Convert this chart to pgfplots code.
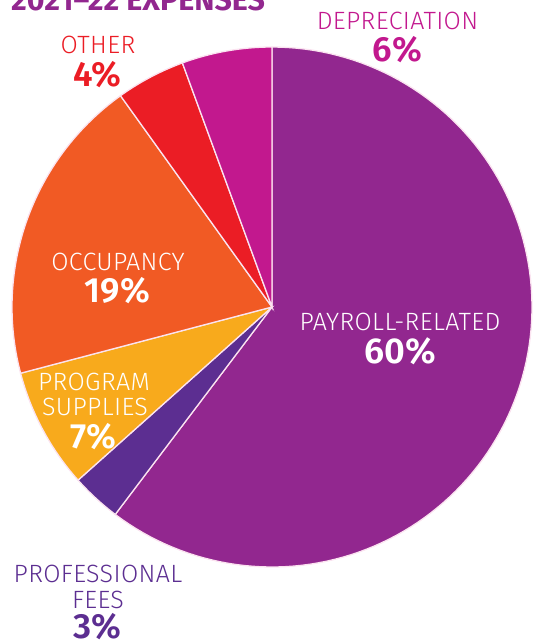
\documentclass[border=0pt]{standalone}
\usepackage{pgfplots}
\pgfplotsset{compat=1.18}
\usepackage{pgfplotstable}
\usepackage{fontspec}
\setmainfont{Fira Sans Light}
\newfontfamily\labfont{Fira Sans Light}[LetterSpace=1.5]
\newfontfamily\pctfont{Fira Sans SemiBold}
\newfontfamily\titfont{Fira Sans Bold}

\definecolor{cPay}{HTML}{92278F}
\definecolor{cFee}{HTML}{5C2E91}
\definecolor{cPrg}{HTML}{F8AA1C}
\definecolor{cOcc}{HTML}{F15A24}
\definecolor{cOth}{HTML}{EB1D25}
\definecolor{cDep}{HTML}{C2188E}
\definecolor{cSep}{HTML}{FBE3F0}

\pgfplotstableread{
name value
payroll 60.3
fees 3.1
program 7.5
occupancy 19.2
other 4.3
depreciation 5.6
}\expenses

\begin{document}
\begin{tikzpicture}
\pgfplotstablegetelem{0}{value}\of\expenses\let\vA\pgfplotsretval
\pgfplotstablegetelem{1}{value}\of\expenses\let\vB\pgfplotsretval
\pgfplotstablegetelem{2}{value}\of\expenses\let\vC\pgfplotsretval
\pgfplotstablegetelem{3}{value}\of\expenses\let\vD\pgfplotsretval
\pgfplotstablegetelem{4}{value}\of\expenses\let\vE\pgfplotsretval
\pgfplotstablegetelem{5}{value}\of\expenses\let\vF\pgfplotsretval
\pgfmathsetmacro\aA{90}
\pgfmathsetmacro\aB{\aA-3.6*\vA}
\pgfmathsetmacro\aC{\aB-3.6*\vB}
\pgfmathsetmacro\aD{\aC-3.6*\vC}
\pgfmathsetmacro\aE{\aD-3.6*\vD}
\pgfmathsetmacro\aF{\aE-3.6*\vE}
\pgfmathsetmacro\aG{\aF-3.6*\vF}
\begin{axis}[
  scale only axis, width=533pt, height=642pt,
  xmin=0, xmax=533, ymin=0, ymax=642, y dir=reverse,
  hide axis, clip=false,
]
\coordinate (tl) at (axis cs:0,0);
\coordinate (br) at (axis cs:533,642);
\addplot[draw=cSep, line width=1.3pt, fill=cPay, domain=\aB:\aA, samples=120] ({272+260*cos(x)},{307-260*sin(x)}) -- (axis cs:272,307) -- cycle;
\addplot[draw=cSep, line width=1.3pt, fill=cFee, domain=\aC:\aB, samples=20] ({272+260*cos(x)},{307-260*sin(x)}) -- (axis cs:272,307) -- cycle;
\addplot[draw=cSep, line width=1.3pt, fill=cPrg, domain=\aD:\aC, samples=30] ({272+260*cos(x)},{307-260*sin(x)}) -- (axis cs:272,307) -- cycle;
\addplot[draw=cSep, line width=1.3pt, fill=cOcc, domain=\aE:\aD, samples=60] ({272+260*cos(x)},{307-260*sin(x)}) -- (axis cs:272,307) -- cycle;
\addplot[draw=cSep, line width=1.3pt, fill=cOth, domain=\aF:\aE, samples=20] ({272+260*cos(x)},{307-260*sin(x)}) -- (axis cs:272,307) -- cycle;
\addplot[draw=cSep, line width=1.3pt, fill=cDep, domain=\aG:\aF, samples=20] ({272+260*cos(x)},{307-260*sin(x)}) -- (axis cs:272,307) -- cycle;

\node[anchor=base west, inner sep=0pt, text=cPay, font=\titfont\fontsize{30.4}{32}\selectfont] at (axis cs:11,11) {2021–22 EXPENSES};

\node[anchor=base, text=cDep, font=\labfont\fontsize{25}{26}\selectfont] at (axis cs:397.5,30) {DEPRECIATION};
\node[anchor=base, text=cDep, font=\pctfont\fontsize{35}{37}\selectfont] at (axis cs:397.5,62) {6\%};

\node[anchor=base, text=cOth, font=\labfont\fontsize{25}{26}\selectfont] at (axis cs:98,54) {OTHER};
\node[anchor=base, text=cOth, font=\pctfont\fontsize{35}{37}\selectfont] at (axis cs:97.5,86) {4\%};

\node[anchor=base, text=white, font=\labfont\fontsize{25}{26}\selectfont] at (axis cs:118,270) {OCCUPANCY};
\node[anchor=base, text=white, font=\pctfont\fontsize{35}{37}\selectfont] at (axis cs:117.5,302) {19\%};

\node[anchor=base, text=white, font=\labfont\fontsize{25}{26}\selectfont] at (axis cs:94,390) {PROGRAM};
\node[anchor=base, text=white, font=\labfont\fontsize{25}{26}\selectfont] at (axis cs:95,415) {SUPPLIES};
\node[anchor=base, text=white, font=\pctfont\fontsize{35}{37}\selectfont] at (axis cs:93.5,448) {7\%};

\node[anchor=base, text=white, font=\labfont\fontsize{25}{26}\selectfont] at (axis cs:400,330) {PAYROLL-RELATED};
\node[anchor=base, text=white, font=\pctfont\fontsize{36}{38}\selectfont] at (axis cs:400,363) {60\%};

\node[anchor=base, text=cFee, font=\labfont\fontsize{25}{26}\selectfont] at (axis cs:98,582) {PROFESSIONAL};
\node[anchor=base, text=cFee, font=\labfont\fontsize{25}{26}\selectfont] at (axis cs:98,608) {FEES};
\node[anchor=base, text=cFee, font=\pctfont\fontsize{35}{37}\selectfont] at (axis cs:97.5,638.5) {3\%};
\end{axis}
\pgfresetboundingbox
\path[use as bounding box] (tl) rectangle (br);
\end{tikzpicture}
\end{document}
